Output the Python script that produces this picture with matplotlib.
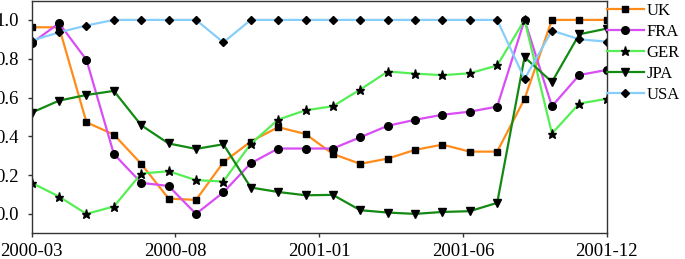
import matplotlib
matplotlib.use("Agg")
import matplotlib.pyplot as plt
import numpy as np

plt.rcParams['font.family'] = ['Liberation Serif', 'DejaVu Serif']

months = ['2000-03', '2000-04', '2000-05', '2000-06', '2000-07', '2000-08', '2000-09',
          '2000-10', '2000-11', '2000-12', '2001-01', '2001-02', '2001-03', '2001-04',
          '2001-05', '2001-06', '2001-07', '2001-08', '2001-09', '2001-10', '2001-11', '2001-12']
tick_labels = ['2000-03', '2000-08', '2001-01', '2001-06', '2001-12']

uk = [0.962, 0.962, 0.472, 0.409, 0.258, 0.079, 0.072, 0.266, 0.373, 0.447, 0.412,
      0.309, 0.258, 0.285, 0.330, 0.357, 0.321, 0.321, 0.593, 1.0, 1.0, 1.0]
fra = [0.88, 0.983, 0.794, 0.309, 0.160, 0.144, 0.0, 0.111, 0.261, 0.337, 0.337,
       0.337, 0.395, 0.454, 0.485, 0.511, 0.527, 0.553, 1.0, 0.555, 0.716, 0.742]
ger = [0.160, 0.089, 0.0, 0.038, 0.208, 0.220, 0.174, 0.167, 0.361, 0.486, 0.534,
       0.555, 0.641, 0.734, 0.723, 0.715, 0.725, 0.765, 1.0, 0.414, 0.569, 0.593]
jpa = [0.522, 0.584, 0.613, 0.634, 0.457, 0.363, 0.335, 0.359, 0.136, 0.113, 0.096,
       0.098, 0.019, 0.007, 0.0, 0.010, 0.014, 0.057, 0.808, 0.680, 0.926, 0.955]
usa = [0.893, 0.936, 0.971, 1.0, 1.0, 1.0, 1.0, 0.884, 1.0, 1.0, 1.0,
       1.0, 1.0, 1.0, 1.0, 1.0, 1.0, 1.0, 0.696, 0.945, 0.900, 0.888]

series = [
    ('UK', uk, '#FF8C1A', 's', 5),
    ('FRA', fra, '#D94DF5', 'o', 5.5),
    ('GER', ger, '#55EE55', '*', 6.5),
    ('JPA', jpa, '#138A13', 'v', 6),
    ('USA', usa, '#87CEFA', 'D', 4.5),
]

fig = plt.figure(figsize=(6.85, 2.59), dpi=100)
W, H = 685, 259
ax = fig.add_axes([31.7 / W, 1 - 233.3 / H, (606.7 - 31.7) / W, (233.3 - 0.5) / H])

x = np.arange(len(months))
for name, vals, col, mk, ms in series:
    ax.plot(x, vals, color=col, lw=1.6, marker=mk, markersize=ms,
            markerfacecolor='black', markeredgecolor='black', label=name)

ax.set_xlim(0, len(months) - 1)
ax.set_ylim(-0.1, 1.1)
ax.set_xticks(np.linspace(0, len(months) - 1, len(tick_labels)))
ax.set_xticklabels(tick_labels)
ax.set_yticks([0.0, 0.2, 0.4, 0.6, 0.8, 1.0])
ax.set_yticklabels(['0.0', '0.2', '0.4', '0.6', '0.8', '1.0'])
ax.tick_params(axis='both', labelsize=13.5, length=3, width=1, color='#333333')
ax.tick_params(axis='x', pad=4)
ax.tick_params(axis='y', pad=6.5)
for s in ax.spines.values():
    s.set_color('#333333')
    s.set_linewidth(1)

ax.legend(loc='upper left', bbox_to_anchor=(1.0, 0.99), frameon=False,
          fontsize=12, handlelength=2.25, handletextpad=0.15, labelspacing=0.3,
          borderaxespad=0, borderpad=0, markerscale=1.0)

fig.savefig('out.png', dpi=100)
